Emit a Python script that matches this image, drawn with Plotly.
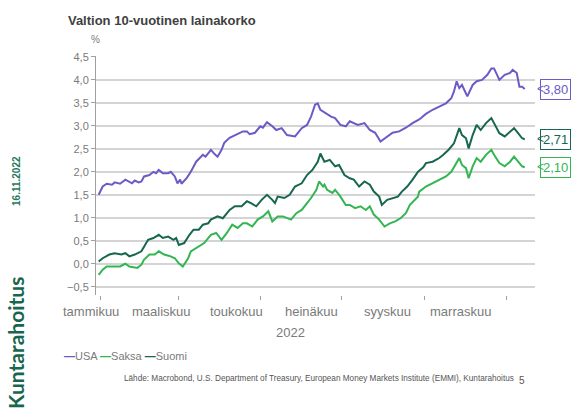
import plotly.graph_objects as go

# ---------------- data ----------------
usa_dates = ["2021-12-31", "2022-01-03", "2022-01-06", "2022-01-10", "2022-01-12", "2022-01-16", "2022-01-20",
             "2022-01-23", "2022-01-25", "2022-01-27", "2022-01-30", "2022-02-01", "2022-02-03", "2022-02-07",
             "2022-02-10", "2022-02-12", "2022-02-14", "2022-02-17", "2022-02-21", "2022-02-23", "2022-02-26",
             "2022-02-28", "2022-03-02", "2022-03-03", "2022-03-07", "2022-03-10", "2022-03-14", "2022-03-19",
             "2022-03-21", "2022-03-24", "2022-03-25", "2022-03-28", "2022-03-30", "2022-04-02", "2022-04-04",
             "2022-04-08", "2022-04-12", "2022-04-18", "2022-04-21", "2022-04-23", "2022-04-27", "2022-05-01",
             "2022-05-03", "2022-05-06", "2022-05-10", "2022-05-13", "2022-05-17", "2022-05-21", "2022-05-27",
             "2022-06-01", "2022-06-05", "2022-06-08", "2022-06-11", "2022-06-13", "2022-06-15", "2022-06-19",
             "2022-06-23", "2022-06-26", "2022-06-30", "2022-07-04", "2022-07-07", "2022-07-13", "2022-07-18",
             "2022-07-22", "2022-07-26", "2022-07-30", "2022-08-03", "2022-08-08", "2022-08-13", "2022-08-18",
             "2022-08-23", "2022-08-28", "2022-09-02", "2022-09-07", "2022-09-12", "2022-09-17", "2022-09-21",
             "2022-09-23", "2022-09-25", "2022-09-27", "2022-09-29", "2022-10-03", "2022-10-07", "2022-10-10",
             "2022-10-14", "2022-10-18", "2022-10-21", "2022-10-23", "2022-10-27", "2022-10-31", "2022-11-04",
             "2022-11-06", "2022-11-09", "2022-11-11", "2022-11-13", "2022-11-15"]
usa_values = [1.50, 1.68, 1.74, 1.72, 1.77, 1.74, 1.83,
              1.79, 1.75, 1.81, 1.77, 1.79, 1.90, 1.93,
              2.00, 1.97, 2.04, 1.97, 1.97, 2.00, 1.90,
              1.75, 1.83, 1.74, 1.87, 2.00, 2.22, 2.37,
              2.33, 2.44, 2.48, 2.38, 2.33, 2.48, 2.63,
              2.74, 2.80, 2.88, 2.88, 2.82, 2.85, 2.99,
              2.96, 3.08, 2.99, 2.91, 2.95, 2.80, 2.77,
              2.95, 3.02, 3.20, 3.46, 3.49, 3.35, 3.28,
              3.20, 3.17, 3.02, 2.99, 3.10, 3.02, 3.06,
              2.91, 2.85, 2.66, 2.74, 2.85, 2.88, 2.96,
              3.06, 3.14, 3.26, 3.35, 3.42, 3.49, 3.60,
              3.75, 3.97, 3.82, 3.89, 3.64, 3.89, 3.97,
              4.00, 4.11, 4.25, 4.25, 4.00, 4.11, 4.15,
              4.22, 4.15, 3.85, 3.85, 3.80]

suomi_dates = ["2021-12-31", "2022-01-03", "2022-01-08", "2022-01-12", "2022-01-17", "2022-01-20", "2022-01-23",
               "2022-01-27", "2022-02-01", "2022-02-03", "2022-02-06", "2022-02-10", "2022-02-14", "2022-02-17",
               "2022-02-21", "2022-02-25", "2022-02-27", "2022-03-01", "2022-03-05", "2022-03-09", "2022-03-12",
               "2022-03-16", "2022-03-19", "2022-03-23", "2022-03-25", "2022-03-30", "2022-04-03", "2022-04-08",
               "2022-04-12", "2022-04-17", "2022-04-21", "2022-04-24", "2022-04-28", "2022-05-02", "2022-05-06",
               "2022-05-10", "2022-05-12", "2022-05-14", "2022-05-19", "2022-05-23", "2022-05-27", "2022-06-01",
               "2022-06-05", "2022-06-09", "2022-06-13", "2022-06-15", "2022-06-17", "2022-06-18", "2022-06-22",
               "2022-06-26", "2022-06-29", "2022-07-03", "2022-07-07", "2022-07-10", "2022-07-14", "2022-07-18",
               "2022-07-22", "2022-07-25", "2022-07-29", "2022-07-31", "2022-08-04", "2022-08-08", "2022-08-12",
               "2022-08-15", "2022-08-19", "2022-08-23", "2022-08-27", "2022-08-31", "2022-09-02", "2022-09-07",
               "2022-09-12", "2022-09-15", "2022-09-19", "2022-09-23", "2022-09-27", "2022-09-29", "2022-10-02",
               "2022-10-04", "2022-10-07", "2022-10-10", "2022-10-13", "2022-10-17", "2022-10-21", "2022-10-23",
               "2022-10-27", "2022-10-31", "2022-11-04", "2022-11-07", "2022-11-10", "2022-11-13", "2022-11-15"]
suomi_values = [0.05, 0.12, 0.20, 0.23, 0.20, 0.23, 0.16,
                0.20, 0.27, 0.38, 0.52, 0.56, 0.63, 0.56,
                0.59, 0.52, 0.56, 0.41, 0.45, 0.63, 0.74,
                0.74, 0.85, 0.88, 0.96, 1.03, 0.99, 1.17,
                1.25, 1.25, 1.36, 1.32, 1.25, 1.39, 1.50,
                1.39, 1.32, 1.46, 1.43, 1.50, 1.68, 1.75,
                1.93, 2.04, 2.22, 2.40, 2.30, 2.22, 2.26,
                2.12, 2.15, 1.93, 1.86, 1.83, 1.68, 1.79,
                1.72, 1.57, 1.46, 1.28, 1.39, 1.43, 1.46,
                1.57, 1.68, 1.83, 2.00, 2.10, 2.19, 2.22,
                2.30, 2.37, 2.48, 2.62, 2.95, 2.80, 2.73,
                2.51, 2.80, 3.02, 2.91, 3.06, 3.17, 3.06,
                2.84, 2.77, 2.88, 2.95, 2.84, 2.73, 2.71]

saksa_dates = ["2021-12-31", "2022-01-03", "2022-01-06", "2022-01-11", "2022-01-16", "2022-01-20", "2022-01-23",
               "2022-01-29", "2022-02-01", "2022-02-03", "2022-02-07", "2022-02-11", "2022-02-14", "2022-02-18",
               "2022-02-22", "2022-02-26", "2022-03-01", "2022-03-04", "2022-03-08", "2022-03-10", "2022-03-14",
               "2022-03-20", "2022-03-25", "2022-03-29", "2022-04-02", "2022-04-06", "2022-04-10", "2022-04-14",
               "2022-04-18", "2022-04-21", "2022-04-25", "2022-04-29", "2022-05-03", "2022-05-07", "2022-05-10",
               "2022-05-14", "2022-05-18", "2022-05-24", "2022-05-28", "2022-06-01", "2022-06-05", "2022-06-08",
               "2022-06-12", "2022-06-14", "2022-06-17", "2022-06-18", "2022-06-20", "2022-06-24", "2022-06-26",
               "2022-06-30", "2022-07-04", "2022-07-07", "2022-07-11", "2022-07-15", "2022-07-19", "2022-07-22",
               "2022-07-25", "2022-07-29", "2022-08-02", "2022-08-06", "2022-08-10", "2022-08-14", "2022-08-18",
               "2022-08-21", "2022-08-27", "2022-08-28", "2022-09-02", "2022-09-07", "2022-09-12", "2022-09-17",
               "2022-09-21", "2022-09-27", "2022-09-29", "2022-10-02", "2022-10-04", "2022-10-07", "2022-10-10",
               "2022-10-13", "2022-10-17", "2022-10-21", "2022-10-23", "2022-10-27", "2022-10-31", "2022-11-04",
               "2022-11-07", "2022-11-10", "2022-11-13", "2022-11-15"]
saksa_values = [-0.24, -0.13, -0.06, -0.06, -0.06, 0.00, -0.06,
                -0.09, -0.02, 0.09, 0.20, 0.20, 0.27, 0.20,
                0.17, 0.12, 0.01, -0.06, 0.12, 0.27, 0.34,
                0.45, 0.63, 0.67, 0.52, 0.67, 0.85, 0.78,
                0.88, 0.88, 0.81, 0.96, 1.03, 1.14, 0.92,
                1.03, 1.03, 0.96, 1.10, 1.17, 1.32, 1.43,
                1.61, 1.79, 1.68, 1.72, 1.61, 1.54, 1.61,
                1.46, 1.28, 1.28, 1.21, 1.25, 1.17, 1.25,
                1.07, 0.96, 0.81, 0.88, 0.92, 0.99, 1.10,
                1.28, 1.46, 1.57, 1.68, 1.75, 1.83, 1.90,
                2.00, 2.30, 2.15, 2.08, 1.86, 2.12, 2.30,
                2.22, 2.37, 2.48, 2.37, 2.19, 2.12, 2.22,
                2.33, 2.22, 2.12, 2.10]

series_names = ["USA", "Saksa", "Suomi"]
series_colors = ["#6b5bc6", "#33b552", "#17664f"]

month_ticks = ["2022-01-01", "2022-03-01", "2022-05-01", "2022-07-01", "2022-09-01", "2022-11-01"]
month_labels = ["tammikuu", "maaliskuu", "toukokuu", "heinäkuu", "syyskuu", "marraskuu"]
month_label_pos = [-0.011, 0.150, 0.321, 0.492, 0.665, 0.831]
y_ticks = [-0.5, 0.0, 0.5, 1.0, 1.5, 2.0, 2.5, 3.0, 3.5, 4.0, 4.5]

title_text = "Valtion 10-vuotinen lainakorko"
source_text = "Lähde: Macrobond, U.S. Department of Treasury, European Money Markets Institute (EMMI), Kuntarahoitus"

FONT = "'Liberation Sans', Arial, sans-serif"
GRAY = "#7a7a7a"

fig = go.Figure()
series = [(usa_dates, usa_values), (saksa_dates, saksa_values), (suomi_dates, suomi_values)]
for (d, v), name, col in zip(series, series_names, series_colors):
    fig.add_trace(go.Scatter(x=d, y=v, mode="lines", name=name,
                             line=dict(color=col, width=2), showlegend=False))

annotations = []
# end-value labels with a small callout notch
for (d, v), col in zip(series, series_colors):
    annotations.append(dict(xref="paper", yref="y", x=1.0114, y=v[-1], xanchor="left", yanchor="middle",
                            text=f"{v[-1]:.2f}".replace(".", ","), showarrow=False,
                            font=dict(family=FONT, size=13, color=col),
                            bordercolor=col, borderwidth=1, borderpad=2, bgcolor="white"))
    annotations.append(dict(xref="paper", yref="y", x=1.0114, y=v[-1], xanchor="right", yanchor="middle",
                            text="&lt;", showarrow=False, xshift=6,
                            font=dict(family=FONT, size=12, color=col)))

# month labels
for lab, pos in zip(month_labels, month_label_pos):
    annotations.append(dict(xref="paper", yref="paper", x=pos, y=-0.071, xanchor="center", yanchor="middle",
                            text=lab, showarrow=False, font=dict(family=FONT, size=13, color=GRAY)))

legend_text = "".join(
    f"<span style='color:{c}'><b>—</b></span>{n} " for n, c in zip(series_names, series_colors))

annotations += [
    dict(xref="paper", yref="paper", x=0.442, y=-0.155, text="2022", showarrow=False,
         xanchor="center", yanchor="middle", font=dict(family=FONT, size=13, color=GRAY)),
    dict(xref="paper", yref="paper", x=-0.002, y=1.067, text="%", showarrow=False,
         xanchor="center", yanchor="middle", font=dict(family=FONT, size=10, color=GRAY)),
    dict(xref="paper", yref="paper", x=-0.078, y=-0.255, xanchor="left", yanchor="middle", showarrow=False,
         text=legend_text, font=dict(family=FONT, size=11, color=GRAY)),
    dict(xref="paper", yref="paper", x=0.957, y=-0.351, xanchor="right", yanchor="middle", showarrow=False,
         text=source_text, font=dict(family=FONT, size=8.2, color="#555555")),
    dict(xref="paper", yref="paper", x=0.958, y=-0.357, xanchor="left", yanchor="middle", showarrow=False,
         text="5", font=dict(family=FONT, size=10, color="#555555")),
    dict(xref="paper", yref="paper", x=-0.18, y=0.477, xanchor="center", yanchor="middle", showarrow=False,
         text="<b>16.11.2022</b>", textangle=-90, font=dict(family=FONT, size=10, color="#1f7a5e")),
    dict(xref="paper", yref="paper", x=-0.184, y=0.085, xanchor="center", yanchor="top", showarrow=False,
         text="<b>Kuntarahoitus</b>", textangle=-90,
         font=dict(family="Lato, 'Noto Sans', sans-serif", size=21, color="#17664f")),
]

fig.update_layout(
    width=571, height=412,
    margin=dict(l=96, r=36, t=56, b=117),
    paper_bgcolor="white", plot_bgcolor="white",
    separators=", ",
    title=dict(text=f"<b>{title_text}</b>", x=0.119, xanchor="left", y=0.951, yanchor="middle",
               font=dict(family=FONT, size=13, color="#3f3f3f")),
    xaxis=dict(type="date", range=["2021-12-29", "2022-11-22 16:00"], tickvals=month_ticks,
               showticklabels=False, ticks="outside", ticklen=4, tickcolor="#a0a0a0",
               showgrid=False, showline=False, zeroline=False),
    yaxis=dict(range=[-0.68, 4.52], tickvals=y_ticks, tickformat=".1f", ticks="outside", ticklen=4,
               tickcolor="#a0a0a0", showline=True, linecolor="#a0a0a0", linewidth=1,
               showgrid=True, gridcolor="#d4d4d4", gridwidth=1.5, zeroline=False,
               tickfont=dict(family=FONT, size=11, color=GRAY)),
    annotations=annotations,
)

fig.write_html("out.html", config={"displayModeBar": False},
               post_script="document.body.style.margin='0';")
